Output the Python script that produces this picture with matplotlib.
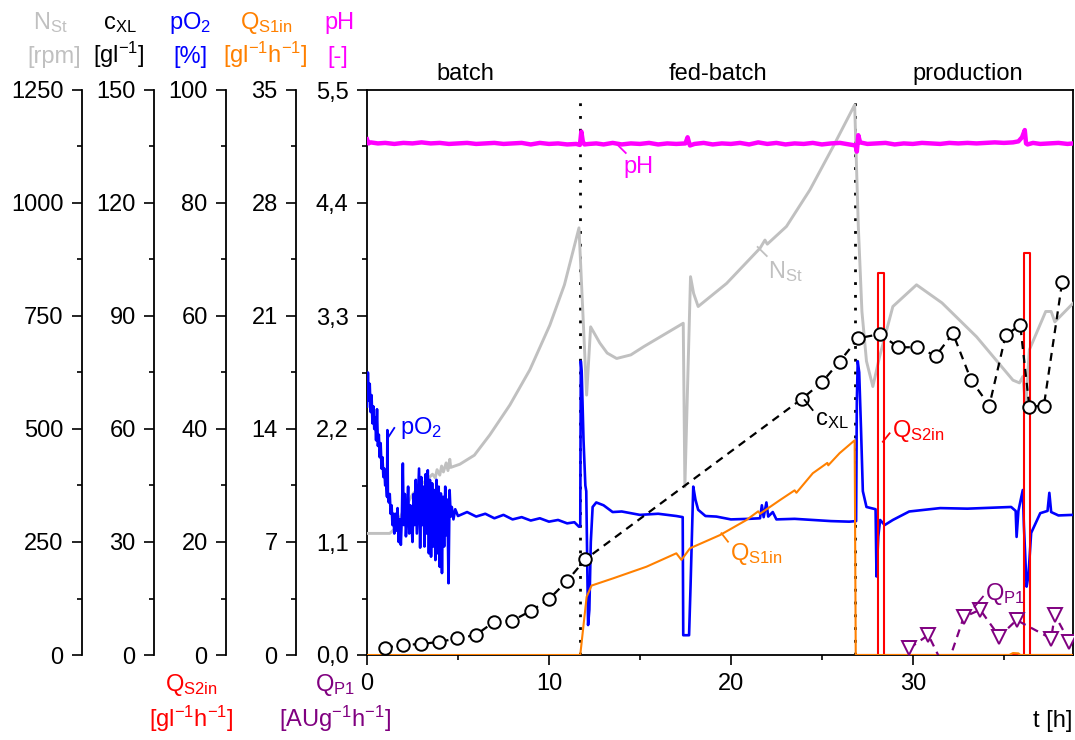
import numpy as np
import matplotlib
matplotlib.use('Agg')
import matplotlib.pyplot as plt
from matplotlib.ticker import FixedLocator, FixedFormatter

plt.rcParams['font.family'] = ['Liberation Sans', 'DejaVu Sans']
plt.rcParams['mathtext.default'] = 'regular'
plt.rcParams['font.size'] = 17

# ---------------- data (time in h) ----------------
N_ST = [(0, 269), (1.25, 269), (1.55, 280), (2.0, 320), (2.5, 355), (2.9, 375), (3.3, 388),
        (3.6, 400), (3.75, 392), (3.85, 410), (4.0, 398), (4.1, 418), (4.2, 405), (4.35, 425),
        (4.45, 408), (4.55, 433), (4.6, 415), (5.1, 422), (5.9, 442), (6.75, 487), (7.85, 553),
        (8.95, 631), (10.05, 730), (10.85, 819), (11.65, 945), (12.07, 575), (12.29, 726),
        (12.8, 690), (13.2, 668), (13.72, 656), (14.5, 664), (15.2, 682), (17.38, 734),
        (17.47, 372), (17.78, 837), (17.95, 800), (18.2, 771), (19.76, 822), (21.6, 900),
        (21.87, 918), (22.0, 909), (23.05, 948), (24.34, 1029), (25.62, 1125), (26.8, 1217),
        (27.0, 950), (27.2, 760), (27.45, 650), (27.8, 594), (28.17, 660), (28.9, 771),
        (30.2, 819), (31.6, 779), (33.5, 704), (35.5, 608), (35.86, 602), (36.04, 616),
        (36.2, 549), (36.4, 675), (37.3, 760), (37.6, 760), (37.8, 737), (38.8, 778)]

C_XL = [(0.99, 1.9), (1.96, 2.7), (2.97, 2.9), (3.97, 3.5), (4.96, 4.4), (5.97, 5.3),
        (6.99, 8.8), (7.98, 9.1), (9.0, 11.7), (10.0, 14.8), (11.0, 19.7), (12.0, 25.4),
        (23.9, 68.0), (25.0, 72.4), (25.97, 77.9), (27.0, 84.1), (28.2, 85.2), (29.2, 81.7),
        (30.25, 81.7), (31.26, 79.4), (32.2, 85.4), (33.2, 73.0), (34.2, 66.2), (35.1, 84.9),
        (35.9, 87.6), (36.4, 65.9), (37.2, 66.2), (38.2, 98.9)]

PO2 = [(0.00, 44), (0.05, 50), (0.10, 45), (0.15, 48), (0.20, 43), (0.25, 46), (0.30, 41),
       (0.35, 44), (0.40, 40), (0.45, 42), (0.50, 38), (0.55, 43.5), (0.60, 37), (0.65, 39),
       (0.70, 35), (0.75, 37.5), (0.80, 33), (0.85, 35), (0.90, 31.5), (0.95, 33), (1.00, 30),
       (1.05, 31), (1.10, 28), (1.12, 39.8), (1.15, 28), (1.20, 27), (1.25, 28.5), (1.30, 25),
       (1.35, 26.5), (1.40, 23), (1.45, 25), (1.50, 21.5), (1.56, 25), (1.62, 22), (1.68, 26),
       (1.74, 20), (1.80, 24), (1.86, 19.5), (1.92, 25), (1.97, 33.9), (2.02, 23), (2.08, 28.5),
       (2.14, 21), (2.20, 25), (2.26, 29.8), (2.32, 21.5), (2.38, 26.5), (2.44, 24), (2.50, 20),
       (2.56, 28.5), (2.62, 23), (2.68, 31), (2.74, 21.5), (2.80, 27.5), (2.86, 33), (2.92, 19),
       (2.98, 31.5), (3.04, 23), (3.10, 29.8), (3.16, 19.2), (3.22, 32), (3.28, 21.5),
       (3.34, 32.7), (3.40, 18), (3.46, 31), (3.52, 17.4), (3.58, 30.4), (3.64, 19.2),
       (3.70, 29.2), (3.76, 16.8), (3.82, 31), (3.88, 18), (3.94, 29.8), (4.00, 15.6),
       (4.06, 28.6), (4.12, 14.5), (4.18, 28), (4.24, 19.2), (4.30, 29.8), (4.36, 21.2),
       (4.42, 27.5), (4.48, 12.7), (4.54, 29.2), (4.60, 24.5), (4.66, 26.2), (4.75, 24.0),
       (4.85, 25.8), (5.0, 24.6), (5.5, 25.3), (6.0, 24.5), (6.5, 25.0), (7.0, 24.2),
       (7.5, 24.8), (8.0, 24.0), (8.5, 24.4), (9.0, 23.8), (9.5, 24.2), (10.0, 23.6),
       (10.5, 23.9), (11.0, 23.3), (11.4, 23.5), (11.65, 22.7), (11.72, 22.9), (11.75, 52),
       (11.8, 50), (11.9, 38), (12.0, 30), (12.05, 29), (12.15, 5.3), (12.22, 8), (12.3, 20),
       (12.4, 26.2), (12.6, 27), (13.0, 26.5), (13.5, 25.3), (14.0, 25.4), (15.0, 24.8),
       (16.0, 25.0), (17.0, 24.6), (17.35, 24.4), (17.38, 3.5), (17.7, 3.5), (17.78, 12),
       (17.93, 29.8), (18.05, 27.5), (18.2, 25.7), (18.6, 24.6), (19.2, 24.5), (20.0, 24.0),
       (21.0, 24.1), (21.6, 24.2), (21.7, 26.5), (21.8, 24.4), (21.95, 27), (22.05, 24.5),
       (22.3, 25.3), (22.5, 24.0), (23.5, 24.1), (24.5, 23.9), (25.5, 23.7), (26.5, 23.6),
       (26.88, 23.7), (26.92, 45), (26.97, 52), (27.05, 50), (27.15, 40), (27.25, 29),
       (27.45, 26.2), (27.7, 26.0), (27.95, 25.8), (28.0, 13.9), (28.1, 21), (28.2, 23.9),
       (28.45, 23.0), (28.9, 23.9), (29.8, 25.4), (31.5, 26.0), (33.0, 25.9), (35.4, 26.2),
       (35.65, 25.5), (35.7, 20.9), (35.8, 25.5), (36.04, 29.2), (36.1, 23), (36.25, 12.1),
       (36.35, 14), (36.5, 21.6), (37.0, 25.1), (37.4, 25.5), (37.5, 28.7), (37.6, 25.3),
       (38.0, 24.7), (38.8, 24.8)]

QS1IN = [(0, 0), (11.72, 0), (12.07, 3.6), (12.34, 4.3), (13.53, 4.75), (15.36, 5.47),
         (17.0, 6.30), (17.28, 5.89), (17.75, 6.61), (19.4, 7.43), (20.85, 8.36), (21.5, 8.9),
         (21.6, 8.75), (22.7, 9.6), (23.5, 10.2), (23.6, 10.05), (24.5, 11.26), (25.3, 11.9),
         (25.35, 11.75), (25.97, 12.5), (26.8, 13.3), (26.86, 0), (35.3, 0), (35.5, 0.12),
         (35.8, 0.1), (35.9, 0), (38.8, 0)]

QS2IN = [(27.0, 0), (28.08, 0), (28.08, 67.6), (28.39, 67.6), (28.39, 0), (36.13, 0),
         (36.13, 71.2), (36.45, 71.2), (36.45, 0), (38.8, 0)]

PH = [(0.0, 5.02), (0.08, 4.98), (0.2, 4.99), (0.6, 4.98), (1.0, 4.985), (1.5, 4.975),
      (2.0, 4.985), (2.5, 4.98), (3.0, 4.99), (3.5, 4.98), (4.0, 4.985), (4.5, 4.975),
      (5.0, 4.98), (5.5, 4.985), (6.0, 4.975), (6.5, 4.98), (7.0, 4.985), (7.5, 4.975),
      (8.0, 4.98), (8.5, 4.985), (9.0, 4.97), (9.5, 4.985), (10.0, 4.975), (10.5, 4.98),
      (11.0, 4.97), (11.5, 4.975), (11.7, 4.965), (11.78, 5.095), (11.86, 5.0), (11.95, 4.97),
      (12.2, 4.975), (12.6, 4.98), (13.0, 4.97), (13.5, 4.985), (14.0, 4.97), (14.5, 4.98),
      (15.0, 4.975), (15.5, 4.985), (16.0, 4.97), (16.5, 4.98), (17.0, 4.975), (17.5, 4.98),
      (17.62, 5.04), (17.68, 5.0), (17.75, 4.96), (18.0, 4.975), (18.5, 4.985), (19.0, 4.97),
      (19.5, 4.98), (20.0, 4.975), (20.5, 4.985), (21.0, 4.97), (21.5, 4.99), (22.0, 4.975),
      (22.5, 4.985), (23.0, 4.97), (23.5, 4.98), (24.0, 4.975), (24.5, 4.985), (25.0, 4.97),
      (25.5, 4.98), (26.0, 4.985), (26.5, 4.97), (26.85, 4.96), (26.92, 4.90), (27.0, 5.06),
      (27.1, 4.99), (27.5, 4.975), (28.0, 4.98), (28.5, 4.985), (29.0, 4.97), (29.5, 4.98),
      (30.0, 4.975), (30.5, 4.985), (31.0, 4.98), (31.5, 4.975), (32.0, 4.985), (32.5, 4.98),
      (33.0, 4.985), (33.5, 4.98), (34.0, 4.985), (34.5, 4.99), (35.0, 4.985), (35.5, 4.99),
      (35.8, 5.0), (36.0, 5.04), (36.15, 5.11), (36.22, 4.98), (36.3, 4.97), (36.6, 4.985),
      (37.0, 4.975), (37.5, 4.98), (38.0, 4.985), (38.5, 4.975), (38.8, 4.98)]

QP1 = [(29.8, 0.065), (30.85, 0.195), (31.8, -0.15), (32.8, 0.37), (33.7, 0.44),
       (34.75, 0.18), (35.7, 0.34), (37.6, 0.16), (37.8, 0.39), (38.6, 0.13)]

PHASES = ['batch', 'fed-batch', 'production']
PHASE_BOUNDS = [11.72, 26.8]

X_TICKS = [0, 10, 20, 30]
N_TICKS = [0, 250, 500, 750, 1000, 1250]
CXL_TICKS = [0, 30, 60, 90, 120, 150]
PO2_TICKS = [0, 20, 40, 60, 80, 100]
QS1_TICKS = [0, 7, 14, 21, 28, 35]
PH_TICKS = [0.0, 1.1, 2.2, 3.3, 4.4, 5.5]
PH_LABELS = ['0,0', '1,1', '2,2', '3,3', '4,4', '5,5']

# ---------------- styles ----------------
GRAY, BLUE, ORANGE, MAGENTA, RED, PURPLE = '#C0C0C0', '#0000FF', '#FF8000', '#FF00FF', '#FF0000', '#800080'
FS = 17
SPW = 1.3


def xy(pairs):
    a = np.array(pairs, dtype=float)
    return a[:, 0], a[:, 1]


fig = plt.figure(figsize=(10.75, 7.40), dpi=100)
fig.patch.set_facecolor('white')
ax = fig.add_axes([367 / 1075, 85 / 740, 706 / 1075, 565 / 740])
ax.set_xlim(0, 38.8)
ax.set_ylim(0, 5.5)
for s in ax.spines.values():
    s.set_linewidth(SPW)
ax.xaxis.set_major_locator(FixedLocator(X_TICKS))
ax.xaxis.set_minor_locator(FixedLocator([5, 15, 25, 35]))
ax.yaxis.set_major_locator(FixedLocator(PH_TICKS))
ax.yaxis.set_major_formatter(FixedFormatter(PH_LABELS))
ax.yaxis.set_minor_locator(FixedLocator([0.55, 1.65, 2.75, 3.85, 4.95]))
ax.tick_params(which='major', direction='out', length=7.2, width=1.2, pad=6, labelsize=FS,
               top=False, right=False)
ax.tick_params(which='minor', direction='out', length=3.6, width=1.2, top=False, right=False)

for b in PHASE_BOUNDS:
    ax.axvline(b, ymin=0, ymax=0.988, color='black', lw=2.0, ls=(0, (1, 3.6)))


def side_axis(pos, lim, ticks):
    a = ax.twinx()
    a.set_ylim(*lim)
    for s in ['top', 'bottom', 'right']:
        a.spines[s].set_visible(False)
    a.spines['left'].set_visible(True)
    a.spines['left'].set_position(('axes', pos))
    a.spines['left'].set_linewidth(SPW)
    a.yaxis.set_ticks_position('left')
    a.yaxis.set_major_locator(FixedLocator(ticks))
    step = ticks[1] - ticks[0]
    a.yaxis.set_minor_locator(FixedLocator([t + step / 2 for t in ticks[:-1]]))
    a.tick_params(axis='y', which='major', direction='out', length=7.2, width=1.2, pad=6,
                  labelsize=FS, left=True, right=False, labelleft=True, labelright=False)
    a.tick_params(axis='y', which='minor', direction='out', length=3.6, width=1.2,
                  left=True, right=False)
    return a


ax_n = side_axis(-0.4037, (0, 1250), N_TICKS)
ax_o = side_axis(-0.1997, (0, 100), PO2_TICKS)
ax_q = side_axis(-0.1006, (0, 35), QS1_TICKS)
ax_x = side_axis(-0.3017, (0, 150), CXL_TICKS)
ax_top = ax.twinx()
ax_top.set_ylim(0, 5.5)
ax_top.axis('off')

t, v = xy(N_ST)
ax_n.plot(t, v, color=GRAY, lw=2.1)
t, v = xy(PO2)
ax_o.plot(t, v, color=BLUE, lw=1.9)
t, v = xy(QS2IN)
ax_o.plot(t, v, color=RED, lw=1.5)
t, v = xy(QS1IN)
ax_q.plot(t, v, color=ORANGE, lw=1.5)
t, v = xy(C_XL)
ax_x.plot(t, v, color='black', lw=1.6, ls=(0, (3.6, 2.7)), marker='o', ms=9,
          mfc='white', mec='black', mew=1.4)
t, v = xy(PH)
ax_top.plot(t, v, color=MAGENTA, lw=3.2)
t, v = xy(QP1)
ax_top.plot(t, v, color=PURPLE, lw=1.6, ls=(0, (3.6, 2.7)), marker='v', ms=10,
            mfc='white', mec=PURPLE, mew=1.4)

# in-plot labels with short leader lines (pH-scale coordinates)
labels = [('pH', MAGENTA, (13.78, 4.964), (14.22, 4.887), (14.1, 4.69)),
          ('N$_{St}$', GRAY, (21.47, 3.972), (21.97, 3.884), (22.02, 3.67)),
          ('c$_{XL}$', 'black', (24.05, 2.482), (24.49, 2.385), (24.6, 2.24)),
          ('pO$_2$', BLUE, (1.17, 2.12), (1.5, 2.21), (1.81, 2.15)),
          ('Q$_{S2in}$', RED, (28.35, 2.076), (28.72, 2.158), (28.83, 2.125)),
          ('Q$_{S1in}$', ORANGE, (19.48, 1.185), (19.84, 1.103), (19.93, 0.925)),
          ('Q$_{P1}$', PURPLE, (33.39, 0.47), (33.85, 0.568), (33.94, 0.535))]
for s, c, p1, p2, pt in labels:
    ax_top.plot([p1[0], p2[0]], [p1[1], p2[1]], color=c, lw=1.3)
    ax_top.text(pt[0], pt[1], s, color=c, fontsize=FS, ha='left', va='baseline')


def ftext(x, y, s, c='black', ha='center'):
    fig.text(x / 1075, 1 - y / 740, s, color=c, fontsize=FS, ha=ha, va='baseline')


for x, s in zip([465, 718, 968], PHASES):
    ftext(x, 80, s)

heads = [(50, 54, 'N$_{St}$', '[rpm]', GRAY),
         (120, 119, 'c$_{XL}$', '[gl$^{-1}$]', 'black'),
         (190, 190, 'pO$_2$', '[%]', BLUE),
         (266, 265, 'Q$_{S1in}$', '[gl$^{-1}$h$^{-1}$]', ORANGE),
         (339, 338, 'pH', '[-]', MAGENTA)]
for x1, x2, s1, s2, c in heads:
    ftext(x1, 29, s1, c)
    ftext(x2, 63, s2, c)

ftext(191, 691, 'Q$_{S2in}$', RED)
ftext(191, 727, '[gl$^{-1}$h$^{-1}$]', RED)
ftext(335, 691, 'Q$_{P1}$', PURPLE)
ftext(335, 727, '[AUg$^{-1}$h$^{-1}$]', PURPLE)
ftext(1072, 727, 't [h]', 'black', ha='right')

fig.savefig('out.png', dpi=100)
